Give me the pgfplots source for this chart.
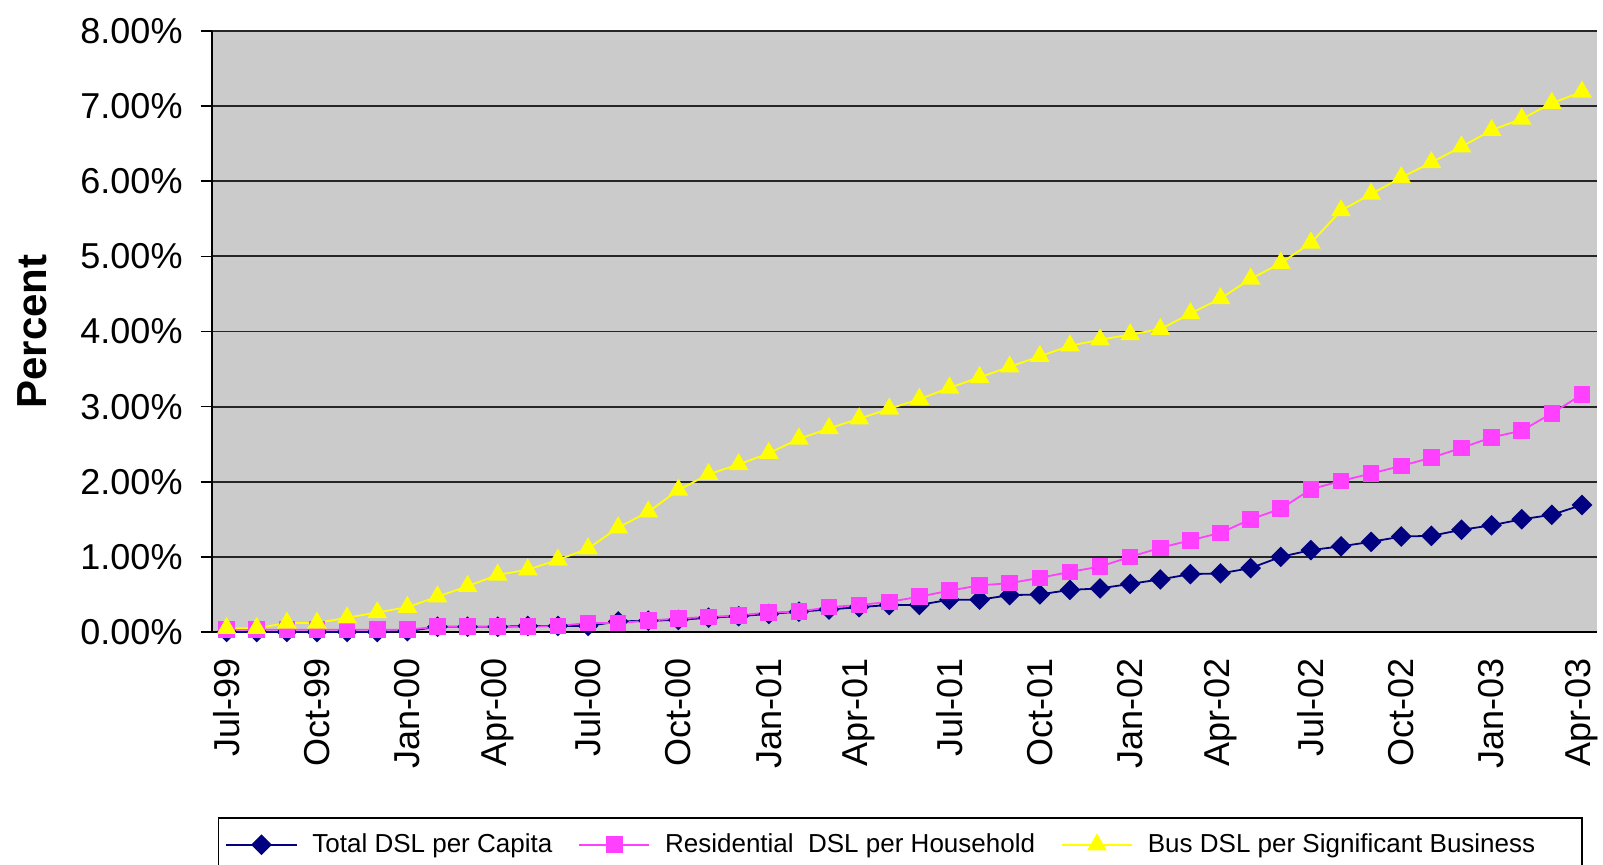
\documentclass[border=0pt]{standalone}
\usepackage{pgfplots}
\pgfplotsset{compat=1.18}
\usepackage{fontspec}
\setmainfont{Liberation Sans}
\definecolor{navyc}{RGB}{0,0,128}
\definecolor{pinkc}{RGB}{255,64,255}
\definecolor{yelc}{RGB}{255,255,0}
\definecolor{bgc}{RGB}{203,203,203}
\begin{document}
\begin{tikzpicture}
\begin{axis}[
  name=ax,
  scale only axis,
  width=692.7pt, height=300.5pt,
  xmin=-0.5, xmax=45.5, ymin=0, ymax=8,
  clip=false,
  axis background/.style={fill=bgc},
  axis lines*=left,
  axis line style={black, line width=1pt},
  ymajorgrids,
  grid style={black!85, line width=0.9pt},
  tick align=outside,
  major tick length=5.5pt,
  tick style={black, line width=0.8pt},
  ytick={0,1,2,3,4,5,6,7,8},
  yticklabels={0.00\%,1.00\%,2.00\%,3.00\%,4.00\%,5.00\%,6.00\%,7.00\%,8.00\%},
  yticklabel style={font=\fontsize{18}{20}\selectfont, xshift=-5.5pt},
  xtick={0,3,...,45},
  xticklabels={Jul-99,Oct-99,Jan-00,Apr-00,Jul-00,Oct-00,Jan-01,Apr-01,Jul-01,Oct-01,Jan-02,Apr-02,Jul-02,Oct-02,Jan-03,Apr-03},
  xtick style={draw=none},
  xticklabel style={font=\fontsize{18}{20}\selectfont, yshift=-4pt, rotate=90, anchor=east},
  extra x ticks={-0.5,2.5,5.5,8.5,11.5,14.5,17.5,20.5,23.5,26.5,29.5,32.5,35.5,38.5,41.5,44.5},
  extra x tick labels={},
  extra x tick style={grid=none, tick style={draw=black, line width=0.8pt}, major tick length=7pt},
  ylabel={Percent},
  ylabel style={font=\bfseries\fontsize{21}{24}\selectfont, at={(axis description cs:-0.1291,0.5)}, anchor=center},
  /pgf/number format/assume math mode=true,
  legend columns=3,
  legend cell align=left,
  legend style={at={(axis description cs:0,0)}, anchor=north west, xshift=3.1pt, yshift=-92.5pt, draw=black, line width=0.8pt, fill=white,
    font=\fontsize{13}{15}\selectfont, inner xsep=3.5pt, inner ysep=6pt,
    /tikz/every odd column/.append style={column sep=5.5pt},
    /tikz/every even column/.append style={column sep=11pt}},
  legend image code/.code={\draw[mark repeat=2,mark phase=2,#1] plot coordinates {(0pt,0pt) (17.5pt,0pt) (35pt,0pt)};},
]
\addplot[navyc, line width=0.9pt, mark=square*, mark size=3.2pt, mark options={solid, rotate=45, fill=navyc, draw=navyc}] coordinates {
(0,0.00) (1,0.00) (2,0.00) (3,0.00) (4,0.00) (5,0.00) (6,0.01) (7,0.07) (8,0.07) (9,0.07)
(10,0.08) (11,0.08) (12,0.08) (13,0.14) (14,0.15) (15,0.16) (16,0.19) (17,0.21) (18,0.24) (19,0.27)
(20,0.30) (21,0.33) (22,0.36) (23,0.36) (24,0.43) (25,0.43) (26,0.49) (27,0.50) (28,0.56) (29,0.58)
(30,0.64) (31,0.70) (32,0.77) (33,0.78) (34,0.85) (35,1.00) (36,1.09) (37,1.14) (38,1.20) (39,1.27)
(40,1.28) (41,1.36) (42,1.42) (43,1.50) (44,1.56) (45,1.69)};
\addlegendentry{Total DSL per Capita}
\addplot[pinkc, line width=0.9pt, mark=square*, mark size=3.7pt, mark options={solid, fill=pinkc, draw=pinkc}] coordinates {
(0,0.03) (1,0.03) (2,0.03) (3,0.03) (4,0.03) (5,0.03) (6,0.03) (7,0.07) (8,0.07) (9,0.07)
(10,0.07) (11,0.08) (12,0.12) (13,0.12) (14,0.15) (15,0.18) (16,0.20) (17,0.22) (18,0.26) (19,0.27)
(20,0.33) (21,0.36) (22,0.40) (23,0.47) (24,0.55) (25,0.62) (26,0.65) (27,0.72) (28,0.80) (29,0.87)
(30,1.00) (31,1.12) (32,1.22) (33,1.32) (34,1.50) (35,1.64) (36,1.90) (37,2.01) (38,2.11) (39,2.21)
(40,2.32) (41,2.45) (42,2.59) (43,2.68) (44,2.91) (45,3.16)};
\addlegendentry{Residential\ \ DSL per Household}
\addplot[yelc, line width=0.9pt, mark=triangle*, mark size=4.8pt, mark options={solid, fill=yelc, draw=yelc}] coordinates {
(0,0.05) (1,0.05) (2,0.12) (3,0.12) (4,0.19) (5,0.26) (6,0.33) (7,0.47) (8,0.61) (9,0.76)
(10,0.83) (11,0.96) (12,1.11) (13,1.39) (14,1.60) (15,1.89) (16,2.10) (17,2.23) (18,2.38) (19,2.57)
(20,2.71) (21,2.84) (22,2.97) (23,3.10) (24,3.25) (25,3.39) (26,3.53) (27,3.67) (28,3.81) (29,3.89)
(30,3.96) (31,4.03) (32,4.24) (33,4.44) (34,4.70) (35,4.91) (36,5.18) (37,5.61) (38,5.83) (39,6.05)
(40,6.25) (41,6.46) (42,6.68) (43,6.83) (44,7.04) (45,7.19)};
\addlegendentry{Bus DSL per Significant Business\rule{18pt}{0pt}}
\end{axis}
\pgfresetboundingbox
\path ([xshift=-105.8pt,yshift=-116.5pt]ax.south west) rectangle ([xshift=3pt,yshift=15.5pt]ax.north east);
\end{tikzpicture}
\end{document}
